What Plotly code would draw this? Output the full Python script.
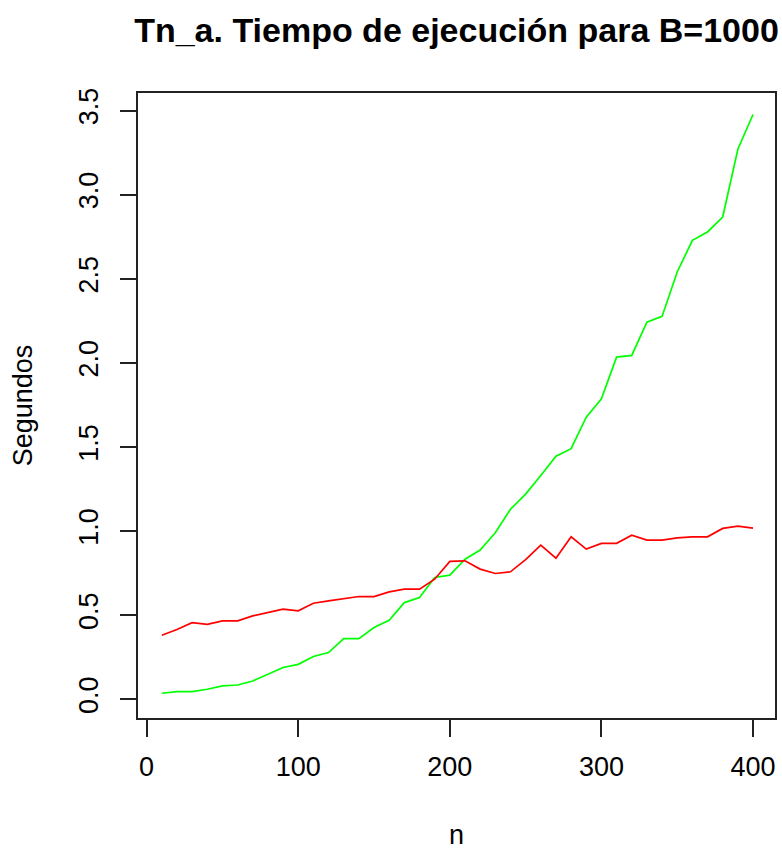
import plotly.graph_objects as go

n = [10, 20, 30, 40, 50, 60, 70, 80, 90, 100,
     110, 120, 130, 140, 150, 160, 170, 180, 190, 200,
     210, 220, 230, 240, 250, 260, 270, 280, 290, 300,
     310, 320, 330, 340, 350, 360, 370, 380, 390, 400]

green_vals = [0.036, 0.046, 0.046, 0.060, 0.080, 0.085, 0.109, 0.149, 0.189, 0.208,
              0.255, 0.278, 0.361, 0.361, 0.427, 0.470, 0.575, 0.605, 0.724, 0.738,
              0.833, 0.887, 0.990, 1.130, 1.220, 1.330, 1.445, 1.490, 1.677, 1.786,
              2.034, 2.044, 2.242, 2.276, 2.540, 2.728, 2.778, 2.867, 3.270, 3.476]

red_vals = [0.381, 0.415, 0.456, 0.446, 0.466, 0.466, 0.496, 0.516, 0.536, 0.526,
            0.571, 0.585, 0.600, 0.611, 0.611, 0.639, 0.655, 0.655, 0.714, 0.820,
            0.823, 0.774, 0.748, 0.758, 0.830, 0.917, 0.839, 0.966, 0.893, 0.927,
            0.927, 0.976, 0.946, 0.946, 0.960, 0.966, 0.966, 1.016, 1.030, 1.018]

x_ticks = [0, 100, 200, 300, 400]
y_ticks = [0.0, 0.5, 1.0, 1.5, 2.0, 2.5, 3.0, 3.5]
y_tick_labels = ["0.0", "0.5", "1.0", "1.5", "2.0", "2.5", "3.0", "3.5"]

FONT = "Liberation Sans, Arial, sans-serif"

W, H = 782, 850

fig = go.Figure()
fig.add_trace(go.Scatter(x=n, y=green_vals, mode="lines",
                         line=dict(color="#00FF00", width=1.7), showlegend=False))
fig.add_trace(go.Scatter(x=n, y=red_vals, mode="lines",
                         line=dict(color="#FF0000", width=1.7), showlegend=False))

fig.update_layout(
    width=W, height=H,
    margin=dict(l=138, r=5, t=93, b=132),
    paper_bgcolor="white", plot_bgcolor="white",
    font=dict(family=FONT, size=27, color="black"),
    title=dict(text="Tn_a. Tiempo de ejecución para B=1000",
               font=dict(family=FONT, size=34, color="black", weight="bold"),
               x=0.5, xref="paper", xanchor="center",
               y=1 - 30 / H, yref="container", yanchor="middle"),
    xaxis=dict(range=[-5.7, 414.5], tickvals=x_ticks, ticktext=[str(v) for v in x_ticks],
               ticks="outside", ticklen=17, tickwidth=1.5, tickcolor="#222",
               showline=True, linecolor="#222", linewidth=1.5, mirror=True,
               showgrid=False, zeroline=False, ticklabelstandoff=7,
               tickfont=dict(family=FONT, size=27, color="black")),
    yaxis=dict(range=[-0.111, 3.604], tickvals=y_ticks, ticktext=y_tick_labels,
               ticks="outside", ticklen=16, tickwidth=1.5, tickcolor="#222",
               showline=True, linecolor="#222", linewidth=1.5, mirror=True,
               showgrid=False, zeroline=False, tickangle=-90, ticklabelstandoff=11,
               tickfont=dict(family=FONT, size=27, color="black")),
    annotations=[
        dict(text="Segundos", textangle=-90, xref="paper", yref="paper",
             x=(23 - 138) / 639, y=(718 - 405) / 625, xanchor="center", yanchor="middle",
             showarrow=False, font=dict(family=FONT, size=27, color="black")),
        dict(text="n", xref="paper", yref="paper",
             x=0.5, y=(718 - 835) / 625, xanchor="center", yanchor="middle",
             showarrow=False, font=dict(family=FONT, size=27, color="black")),
    ],
)

fig.write_html("out.html",
               config={"displayModeBar": False},
               post_script="document.body.style.margin='0';document.body.style.overflow='hidden';")
